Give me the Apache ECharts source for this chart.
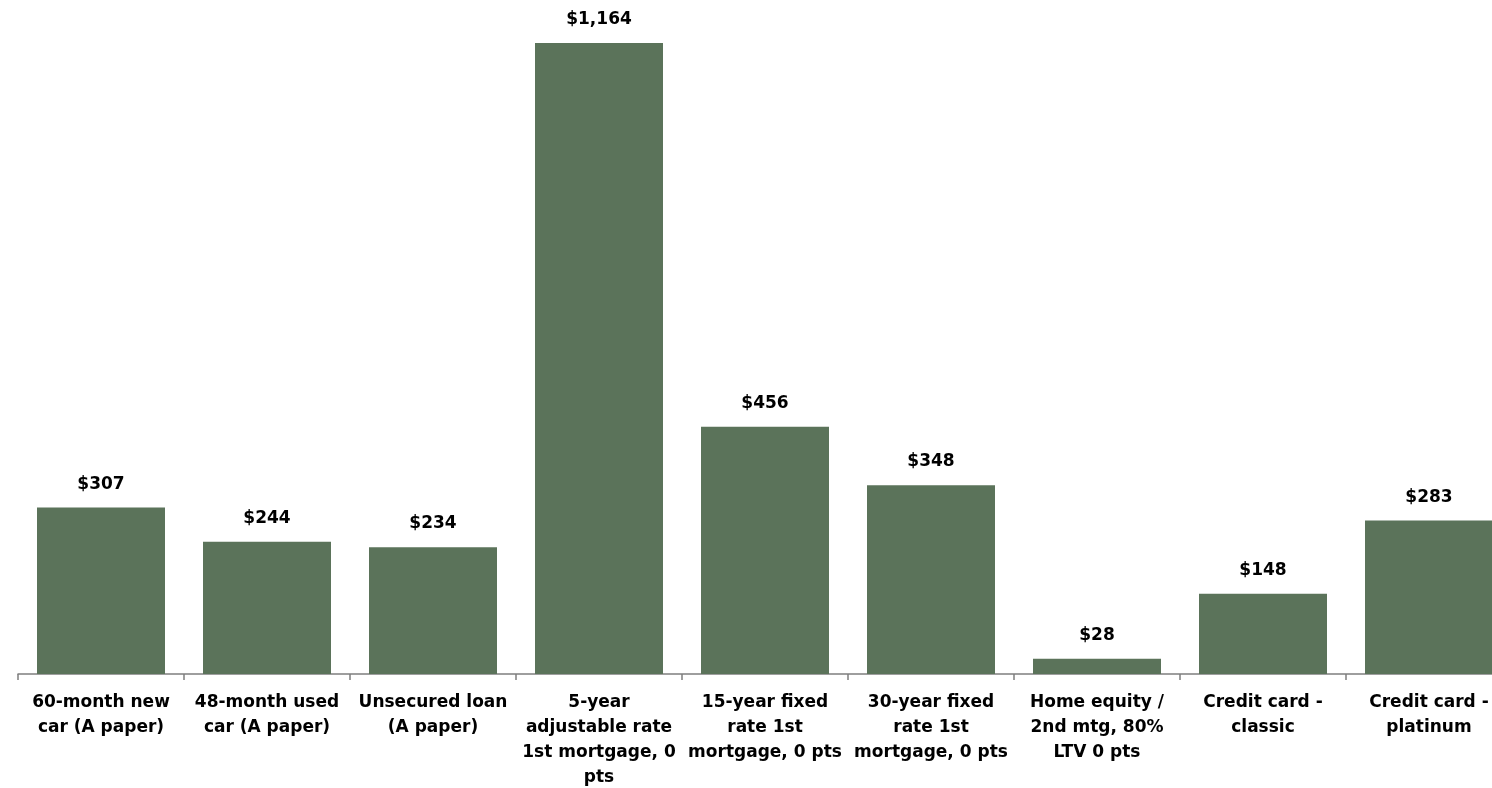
<!DOCTYPE html>
<html>
<head>
<meta charset="utf-8">
<script src="https://cdn.jsdelivr.net/npm/echarts@6/dist/echarts.min.js"></script>
<style>
  html, body { margin: 0; padding: 0; background: #fff; }
  #chart { width: 1492px; height: 788px; }
</style>
</head>
<body>
<div id="chart"></div>
<script>
let categories = [
  '60-month new\ncar (A paper)',
  '48-month used\ncar (A paper)',
  'Unsecured loan\n(A paper)',
  '5-year\nadjustable rate\n1st mortgage, 0\npts',
  '15-year fixed\nrate 1st\nmortgage, 0 pts',
  '30-year fixed\nrate 1st\nmortgage, 0 pts',
  'Home equity /\n2nd mtg, 80%\nLTV 0 pts',
  'Credit card -\nclassic',
  'Credit card -\nplatinum'
];
let values = [307, 244, 234, 1164, 456, 348, 28, 148, 283];

let myChart = echarts.init(document.getElementById('chart'));
let option = {
  animation: false,
  grid: {
    left: 18,
    top: 10,
    width: 1494,
    height: 664,
    containLabel: false,
    outerBoundsMode: 'none'
  },
  xAxis: {
    type: 'category',
    data: categories,
    axisLine: { lineStyle: { color: '#7f7f7f', width: 1.5 } },
    axisTick: { show: true, length: 6, lineStyle: { color: '#7f7f7f', width: 1.5 } },
    axisLabel: {
      interval: 0,
      margin: 16,
      color: '#000',
      fontFamily: 'DejaVu Sans',
      fontWeight: 'bold',
      fontSize: 17,
      lineHeight: 25
    }
  },
  yAxis: {
    type: 'value',
    min: 0,
    max: 1225,
    show: false,
    splitLine: { show: false }
  },
  series: [
    {
      type: 'bar',
      data: values,
      barWidth: 128,
      itemStyle: { color: '#5b735a' },
      label: {
        show: true,
        position: 'top',
        distance: 15,
        color: '#000',
        fontFamily: 'DejaVu Sans',
        fontWeight: 'bold',
        fontSize: 17,
        formatter: function (p) {
          return '$' + p.value.toLocaleString('en-US');
        }
      }
    }
  ]
};
myChart.setOption(option);

// 窗口变化，重绘图像
window.addEventListener('resize', function () {
  myChart.resize();
}, false)
</script>
</body>
</html>
